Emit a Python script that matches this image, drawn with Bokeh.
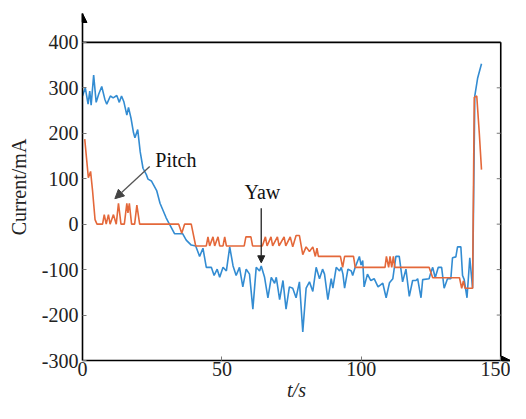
import math
from bokeh.plotting import figure
from bokeh.models import Range1d, FixedTicker, Label, Arrow, NormalHead
from bokeh.embed import file_html
from bokeh.resources import INLINE

# ---- data ----
x_ticks = [0, 50, 100, 150]
y_ticks = [-300, -200, -100, 0, 100, 200, 300, 400]

yaw_t = [0, 1, 2, 2.6, 3.1, 4, 4.9, 5.8, 6.9, 8, 8.7, 10, 11, 12.3, 13.2, 14, 14.8,
         15.9, 16.5, 17.4, 18.3, 18.8, 19.8, 20.7, 21.7, 22.9, 23.5, 24.7, 26.6, 27.8,
         28.9, 30, 31, 33, 35.9, 37.2, 39, 40.6, 42, 43.2, 44.4, 46.2, 47.2, 48.3, 49.2,
         50.4, 51.6, 52.8, 54, 55.1, 56.3, 57.5, 58.7, 59.9, 61.1, 62.3, 63.5, 64.1, 65.3,
         66.5, 67.7, 68.9, 69.5, 70.7, 71.9, 73, 74.2, 75.4, 76.6, 77.8, 79, 80.2, 81.4,
         82.6, 83.8, 85, 86.1, 86.8, 88, 89.2, 89.8, 91, 92.2, 92.8, 93.4, 94, 95.2, 96.4,
         96.9, 97.8, 99.3, 99.9, 100.5, 101, 102.2, 103.4, 104.6, 106, 107.7, 108.9, 110.1,
         111.3, 112.4, 113.6, 114.8, 116, 117.2, 118.4, 119.6, 120.2, 121.4, 122, 124.3,
         125, 125.6, 126.5, 127.6, 128.8, 129.7, 130.9, 132.1, 132.7, 133.9, 134.5, 135.7,
         136.3, 136.9, 137.9, 138.9, 139.9, 140.7, 141.7, 143.1]
yaw_v = [282, 300, 264, 293, 262, 328, 268, 286, 303, 275, 264, 282, 278, 283, 268, 282, 270,
         240, 257, 233, 201, 190, 208, 159, 123, 109, 99, 95, 74, 46,
         30, 14, 2, -21, -21, -35, -46, -48, -71, -53, -95, -95, -113, -99, -117,
         -95, -103, -50, -92, -113, -95, -138, -99, -110, -187, -95, -103, -92, -117,
         -162, -117, -130, -117, -166, -124, -187, -138, -141, -162, -127, -237, -141, -127,
         -148, -95, -120, -99, -110, -166, -120, -141, -95, -103, -95, -110, -141, -99, -103,
         -113, -95, -71, -90, -80, -138, -110, -124, -120, -138, -130, -162, -129,
         -120, -71, -71, -127, -99, -159, -124, -124, -120, -162, -122, -120,
         -105, -95, -118, -95, -95, -141, -120, -120, -74, -72, -50, -50,
         -113, -122, -162, -74, -141, 282, 321, 353]

pitch_t = [0.8, 2.1, 2.9, 3.6, 4.5, 5.2, 7.2, 7.8, 8.5, 9.3, 9.9, 11.1, 12.1, 12.9, 13.8,
           15.0, 15.9, 16.3, 16.8, 17.6, 18.7, 19.5, 20.5, 34.5, 35.6, 36.6, 39.0, 40.6,
           44.4, 45.0, 45.6, 46.8, 47.4, 48.6, 49.2, 50.4, 51.0, 51.6, 58.0, 58.6, 60.4,
           61.0, 64.5, 65.6, 66.2, 67.6, 68.2, 69.9, 70.5, 72.3, 72.9, 74.5, 75.4, 76.6,
           77.8, 79.0, 80.2, 81.4, 82.6, 83.5, 84.1, 84.6, 92.5, 93.3, 94.0, 97.2, 97.8,
           108.5, 109.0, 109.8, 110.3, 110.9, 111.5, 112.0, 124.3, 125.6, 135.2, 136.0,
           136.6, 137.2, 139.9, 140.5, 141.4, 142.3, 143.1]
pitch_v = [187, 102, 116, 74, 10, 0, 0, 21, 0, 21, 0, 21, 0, 46, 0,
           0, 46, 25, 46, 0, 0, 42, 0, 0, -20, 0, 0, -48,
           -48, -28, -48, -28, -48, -28, -48, -48, -28, -48, -48, -28, -28,
           -48, -48, -28, -48, -28, -48, -28, -48, -28, -48, -28, -50, -25,
           -25, -67, -50, -60, -50, -71, -53, -71, -71, -95, -71, -71, -95,
           -95, -71, -95, -71, -95, -71, -95, -95, -118, -118, -141,
           -125, -141, -141, 279, 282, 201, 120]

BLUE = "#338CD2"
ORANGE = "#E4683A"
SERIF = "Liberation Serif"
TXT = "#222222"

X_TIP = 153.5   # end of the arrowed time axis
Y_TIP = 463.5   # end of the arrowed current axis

p = figure(width=510, height=403, output_backend="svg", toolbar_location=None,
           x_range=Range1d(0, X_TIP), y_range=Range1d(-300, Y_TIP),
           min_border_left=82, min_border_right=0, min_border_top=13, min_border_bottom=30)
p.background_fill_color = "white"
p.border_fill_color = "white"
p.grid.visible = False
p.outline_line_color = None

for ax in (p.xaxis[0], p.yaxis[0]):
    ax.axis_line_width = 1.6
    ax.axis_line_color = "black"
    ax.major_tick_in = 4
    ax.major_tick_out = 0
    ax.minor_tick_line_color = None
    ax.major_tick_line_color = "#777777"
    ax.major_label_text_font = SERIF
    ax.major_label_text_font_size = "20px"
    ax.major_label_text_color = TXT
    ax.axis_label_text_font = SERIF
    ax.axis_label_text_font_size = "20px"
    ax.axis_label_text_color = TXT

p.xaxis[0].ticker = FixedTicker(ticks=x_ticks)
p.yaxis[0].ticker = FixedTicker(ticks=y_ticks)
p.yaxis[0].major_label_overrides = {t: str(t) for t in y_ticks}
p.xaxis[0].major_label_standoff = 1
p.yaxis[0].major_label_standoff = 4
p.yaxis[0].axis_label = "Current/mA"
p.yaxis[0].axis_label_text_font_style = "normal"
p.yaxis[0].axis_label_standoff = 9
p.xaxis[0].axis_label = "t/s"
p.xaxis[0].axis_label_text_font_style = "italic"
p.xaxis[0].axis_label_standoff = 0

# closing frame lines (top at the last y tick, right at the last x tick)
p.segment(x0=[x_ticks[0], x_ticks[-1]], y0=[y_ticks[-1], y_ticks[0]],
          x1=[x_ticks[-1], x_ticks[-1]], y1=[y_ticks[-1], y_ticks[-1]],
          line_color="black", line_width=1.6)
# inward ticks on the right frame line
p.ray(x=[x_ticks[-1]] * (len(y_ticks) - 2), y=y_ticks[1:-1], length=4,
      length_units="screen", angle=math.pi, line_color="#777777", line_width=1)

p.line(yaw_t, yaw_v, line_color=BLUE, line_width=1.6)
p.line(pitch_t, pitch_v, line_color=ORANGE, line_width=1.6)

# axis arrow heads
p.add_layout(Arrow(end=NormalHead(size=9, fill_color="black", line_color="black"),
                   x_start=0, y_start=Y_TIP - 20, x_end=0, y_end=Y_TIP,
                   line_color="black", line_width=1.6))
p.add_layout(Arrow(end=NormalHead(size=9, fill_color="black", line_color="black"),
                   x_start=X_TIP - 3, y_start=-300, x_end=X_TIP, y_end=-300,
                   line_color="black", line_width=1.6))

# annotations
p.add_layout(Label(x=26.1, y=116, text="Pitch", text_font=SERIF, text_font_size="20px",
                   text_color="#111111"))
p.add_layout(Arrow(end=NormalHead(size=9, fill_color="#444444", line_color="#444444"),
                   x_start=24.1, y_start=127, x_end=11.6, y_end=56,
                   line_color="#555555", line_width=1.3))
p.add_layout(Label(x=58.1, y=46, text="Yaw", text_font=SERIF, text_font_size="20px",
                   text_color="#111111"))
p.add_layout(Arrow(end=NormalHead(size=7, fill_color="#222222", line_color="#222222"),
                   x_start=64.1, y_start=35, x_end=64.1, y_end=-85,
                   line_color="#222222", line_width=1.3))

open("out.html", "w").write(file_html(p, INLINE))
